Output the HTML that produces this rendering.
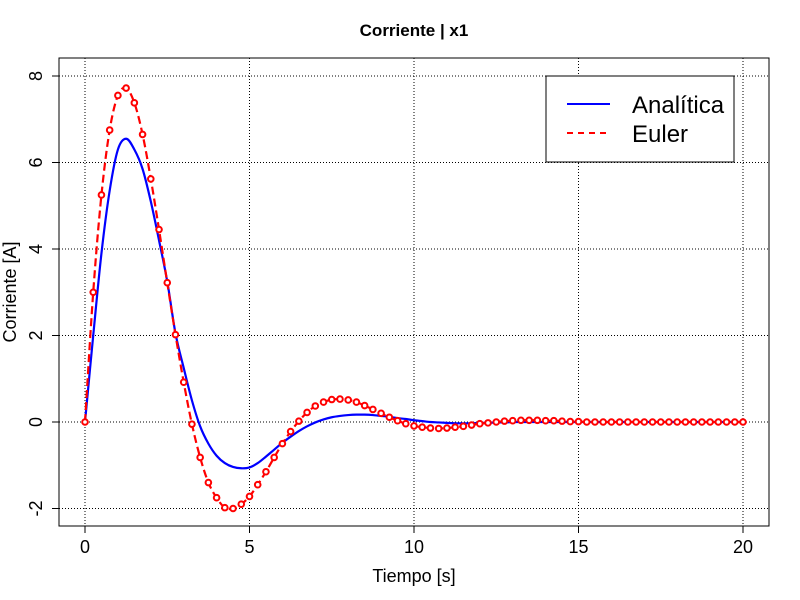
<!DOCTYPE html>
<html><head><meta charset="utf-8"><style>
body{margin:0;background:#fff}
svg{display:block;font-family:"Liberation Sans",sans-serif}
</style></head><body>
<svg id="chart" width="800" height="600">
<text x="414" y="36" text-anchor="middle" font-size="17" font-weight="bold">Corriente | x1</text>
<g id="grid"></g>
<g id="axes"></g>
<g id="series"></g>
<rect x="59" y="58" width="710" height="468" fill="none" stroke="#000"/>
<text x="414" y="582" text-anchor="middle" font-size="18">Tiempo [s]</text>
<text transform="translate(16,292) rotate(-90)" text-anchor="middle" font-size="18">Corriente [A]</text>
<g>
<rect x="546" y="76" width="188" height="86" fill="#fff" stroke="#000"/>
<line x1="567" y1="104" x2="610" y2="104" stroke="#0000ff" stroke-width="2"/>
<text x="632" y="113" font-size="24">Analítica</text>
<line x1="567" y1="133" x2="610" y2="133" stroke="#ff0000" stroke-width="2" stroke-dasharray="6,5"/>
<text x="632" y="142" font-size="24">Euler</text>
</g>
</svg>
<script>
const xTicks=[0,5,10,15,20];
const yTicks=[-2,0,2,4,6,8];
const step=0.25;
const analitica=[0,2.0,3.9,5.35,6.3,6.55,6.3,5.85,5.1,4.2,3.25,2.05,1.25,0.5,-0.1,-0.5,-0.78,-0.95,-1.04,-1.07,-1.05,-0.95,-0.8,-0.64,-0.48,-0.34,-0.21,-0.1,-0.01,0.06,0.11,0.14,0.16,0.17,0.17,0.16,0.14,0.12,0.09,0.07,0.04,0.02,0.0,-0.01,-0.02,-0.03,-0.03,-0.03,-0.02,-0.02,-0.01,-0.01,0,0,0,0,0,0,0,0,0,0,0,0,0,0,0,0,0,0,0,0,0,0,0,0,0,0,0,0,0];
const euler=[0,3.0,5.25,6.75,7.55,7.72,7.38,6.65,5.62,4.45,3.22,2.02,0.92,-0.05,-0.82,-1.4,-1.75,-1.98,-2.0,-1.9,-1.72,-1.45,-1.15,-0.82,-0.5,-0.22,0.02,0.22,0.37,0.46,0.52,0.53,0.51,0.46,0.38,0.29,0.2,0.11,0.03,-0.04,-0.09,-0.12,-0.14,-0.15,-0.14,-0.12,-0.1,-0.07,-0.04,-0.02,0.0,0.02,0.03,0.04,0.04,0.04,0.03,0.03,0.02,0.01,0.01,0,0,0,0,0,0,0,0,0,0,0,0,0,0,0,0,0,0,0,0];
const NS="http://www.w3.org/2000/svg";
const xs=t=>85+t*(743-85)/20;
const ys=v=>422-v*(422-76)/8;
function mk(tag,attrs,parent){const e=document.createElementNS(NS,tag);for(const k in attrs)e.setAttribute(k,attrs[k]);parent.appendChild(e);return e;}
function smooth(pts){let d=`M${pts[0][0]},${pts[0][1]}`;for(let i=0;i<pts.length-1;i++){const p0=pts[Math.max(0,i-1)],p1=pts[i],p2=pts[i+1],p3=pts[Math.min(pts.length-1,i+2)];d+=` C${p1[0]+(p2[0]-p0[0])/6},${p1[1]+(p2[1]-p0[1])/6} ${p2[0]-(p3[0]-p1[0])/6},${p2[1]-(p3[1]-p1[1])/6} ${p2[0]},${p2[1]}`;}return d;}
const grid=document.getElementById('grid'),axes=document.getElementById('axes'),series=document.getElementById('series');
xTicks.forEach(t=>{
 const l=mk('line',{x1:xs(t),x2:xs(t),y1:58,y2:526,stroke:'#000','stroke-dasharray':'1,2','stroke-width':1},grid);
 
 
 const k=mk('line',{x1:xs(t),x2:xs(t),y1:526,y2:533,stroke:'#000'},axes);
 
 
 const tx=mk('text',{x:xs(t),y:553,'text-anchor':'middle','font-size':18},axes);tx.textContent=t;
 
 
});
yTicks.forEach(v=>{
 const l=mk('line',{x1:59,x2:769,y1:ys(v),y2:ys(v),stroke:'#000','stroke-dasharray':'1,2','stroke-width':1},grid);
 
 
 const k=mk('line',{x1:52,x2:59,y1:ys(v),y2:ys(v),stroke:'#000'},axes);
 
 
 const tx=mk('text',{transform:`translate(42,${ys(v)}) rotate(-90)`,'text-anchor':'middle','font-size':18},axes);tx.textContent=v;
 
 
});
const pa=analitica.map((v,i)=>[xs(i*step),ys(v)]);
const la=mk('path',{d:smooth(pa),fill:'none',stroke:'#0000ff','stroke-width':2.2},series);


const pe=euler.map((v,i)=>[xs(i*step),ys(v)]);
const le=mk('path',{d:smooth(pe),fill:'none',stroke:'#ff0000','stroke-width':2.2,'stroke-dasharray':'8,4'},series);


euler.forEach((v,i)=>{
 const c=mk('circle',{cx:xs(i*step),cy:ys(v),r:2.8,fill:'#fff',stroke:'#ff0000','stroke-width':2},series);
 
 
});
</script>
</body></html>
